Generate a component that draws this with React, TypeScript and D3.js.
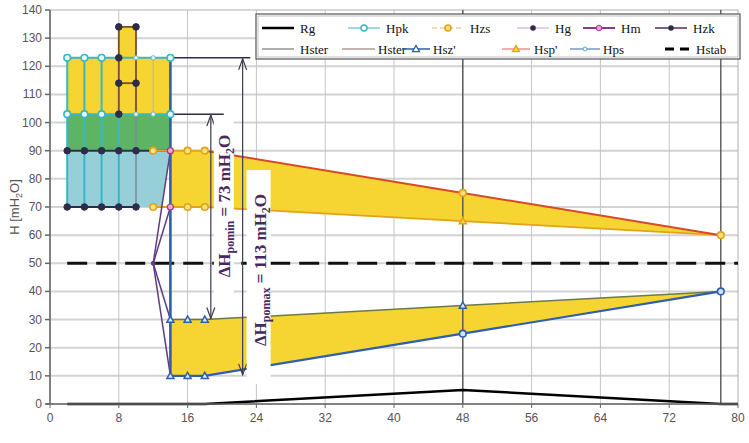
import React from 'react';
import * as d3 from 'd3';

type Pt = [number, number];

const xTickValues = [0, 8, 16, 24, 32, 40, 48, 56, 64, 72, 80];
const yTickValues = [0, 10, 20, 30, 40, 50, 60, 70, 80, 90, 100, 110, 120, 130, 140];

// filled zones
const yellowBlock: Pt[] = [[2, 103], [2, 123], [8, 123], [8, 134], [10, 134], [10, 123], [14, 123], [14, 103]];
const greenBlock: Pt[] = [[2, 90], [2, 103], [8, 103], [8, 114], [10, 114], [10, 103], [14, 103], [14, 90]];
const blueBlock: Pt[] = [[2, 70], [2, 90], [14, 90], [13, 70]];
const pressBand: Pt[] = [[14, 90], [18, 90], [48, 75], [78, 60], [48, 65], [18, 70], [14, 70]];
const suctBand: Pt[] = [[14, 30], [18, 30], [48, 35], [78, 40], [48, 25], [18, 10], [14, 10]];

// lines
const rg: Pt[] = [[2, 0], [18, 0], [48, 5], [78, 0], [80, 0]];
const hstab: Pt[] = [[2, 50], [80, 50]];
const hpkTop: Pt[] = [[2, 123], [14, 123]];
const hpkMid: Pt[] = [[2, 103], [14, 103]];
const hpkVerticals = [2, 4, 6];
const hgUpper: Pt[] = [[2, 90], [14, 90]];
const hgLower: Pt[] = [[2, 70], [10, 70]];
const hgTower: Pt[] = [[8, 103], [8, 134], [10, 134], [10, 103]];
const hgTowerMid: Pt[] = [[8, 114], [10, 114]];
const hzsUpper: Pt[] = [[12, 90], [18, 90]];
const hzsLower: Pt[] = [[12, 70], [18, 70]];
const hspUpper: Pt[] = [[18, 90], [48, 75], [78, 60]];
const hspLower: Pt[] = [[18, 70], [48, 65], [78, 60]];
const hszUpper: Pt[] = [[14, 30], [18, 30], [48, 35], [78, 40]];
const hszLower: Pt[] = [[14, 10], [18, 10], [48, 25], [78, 40]];
const fanHub: Pt = [12, 50];
const fanEnds: Pt[] = [[14, 90], [14, 70], [14, 30], [14, 10]];
const pumpLine: Pt[] = [[14, 10], [14, 123]];
const hsterX = [48, 78];

// markers
const hpkPts: Pt[] = [[2, 123], [4, 123], [6, 123], [14, 123], [2, 103], [4, 103], [6, 103], [14, 103]];
const hpsPts: Pt[] = [[10, 123], [12, 123], [10, 103], [12, 103]];
const hgPts: Pt[] = [[2, 90], [4, 90], [6, 90], [8, 90], [10, 90], [2, 70], [4, 70], [6, 70], [8, 70], [10, 70],
  [8, 134], [10, 134], [8, 114], [10, 114], [8, 123], [8, 103]];
const hzsPts: Pt[] = [[12, 90], [16, 90], [18, 90], [12, 70], [16, 70], [18, 70], [48, 75], [78, 60]];
const hmPts: Pt[] = [[14, 90], [14, 70]];
const hszPts: Pt[] = [[14, 30], [16, 30], [18, 30], [14, 10], [16, 10], [18, 10], [48, 35]];
const hszRound: Pt[] = [[48, 25], [78, 40]];
const hspPts: Pt[] = [[48, 65]];

// annotations
const dhMin = { x: 18.7, from: 103, to: 30, base: 14, stub: 20.2, label: 'pomin', value: 73 };
const dhMax = { x: 22.4, from: 123, to: 10, base: 14, stub: 23.3, label: 'pomax', value: 113 };

const legendRow1 = ['Rg', 'Hpk', 'Hzs', 'Hg', 'Hm', 'Hzk'];
const legendRow2 = ['Hster', 'Hster', "Hsz'", "Hsp'", 'Hps', 'Hstab'];

const W = 749, H = 443;
const M = { left: 50, right: 11, top: 10, bottom: 39 };

const YELLOW = '#f6d431';
const GREEN = '#5db465';
const LBLUE = '#96cfd8';
const ORANGE = '#e3a21a';
const RED = '#d84a26';
const BLUE = '#2d5fae';
const CYAN = '#3ab6c6';
const DARK = '#2d2d4a';
const BROWN = '#7a4a3a';
const PURPLE = '#5e3c82';
const LABEL = '#48285f';

export default function App() {
  const x = d3.scaleLinear().domain([0, 80]).range([M.left, W - M.right]);
  const y = d3.scaleLinear().domain([0, 140]).range([H - M.bottom, M.top]);
  const line = d3.line<Pt>().x(d => x(d[0])).y(d => y(d[1]));
  const area = (pts: Pt[]) => line(pts) + 'Z';

  const circles = (pts: Pt[], r: number, fill: string, stroke: string, sw = 1.5) =>
    pts.map((p, i) => <circle key={i} cx={x(p[0])} cy={y(p[1])} r={r} fill={fill} stroke={stroke} strokeWidth={sw} />);
  const tri = (cx: number, cy: number, s: number) =>
    `M${cx},${cy - s}L${cx + s},${cy + s * 0.75}L${cx - s},${cy + s * 0.75}Z`;
  const triangles = (pts: Pt[], fill: string, stroke: string) =>
    pts.map((p, i) => <path key={i} d={tri(x(p[0]), y(p[1]), 3.5)} fill={fill} stroke={stroke} strokeWidth={1.5} />);

  const tickFont = { fontFamily: '"Liberation Sans", Arial, sans-serif', fontSize: 12, fill: '#555' };
  const serif = '"Liberation Serif", "Times New Roman", serif';

  const arrow = (a: typeof dhMin) => {
    const ax = x(a.x);
    const y1 = y(a.from), y2 = y(a.to);
    return (
      <g stroke="#3b3b50" strokeWidth={1.2} fill="none">
        <line x1={x(a.base)} x2={x(a.stub)} y1={y1} y2={y1} stroke={DARK} strokeWidth={1.5} />
        <line x1={ax} x2={ax} y1={y1 + 1} y2={y2 - 1} />
        <path d={`M${ax - 4},${y1 + 12}L${ax},${y1 + 1}L${ax + 4},${y1 + 12}`} />
        <path d={`M${ax - 4},${y2 - 12}L${ax},${y2 - 1}L${ax + 4},${y2 - 12}`} />
      </g>
    );
  };

  const label = (a: typeof dhMin, cx: number, cy: number, box: [number, number, number, number]) => (
    <g>
      <rect x={box[0]} y={box[1]} width={box[2]} height={box[3]} fill="#fff" />
      <text transform={`translate(${cx},${cy}) rotate(-90)`} textAnchor="middle"
        fontFamily={serif} fontWeight="bold" fontSize={17} fill={LABEL}>
        ΔH<tspan fontSize={12} dy={4}>{a.label}</tspan><tspan dy={-4}>{` = ${a.value} mH`}</tspan>
        <tspan fontSize={12} dy={4}>2</tspan><tspan dy={-4}>O</tspan>
      </text>
    </g>
  );

  const minX = x(dhMin.x), maxX = x(dhMax.x);

  // legend layout
  const legX1 = [262, 348, 432, 517, 583, 655];
  const legX2 = [262, 342, 402, 502, 570, 665];
  const legTx2 = [300, 378, 433, 534, 603, 696];
  const legY1 = 28, legY2 = 49;
  const legSample = (name: string, row: number, i: number) => {
    const lx = row === 1 ? legX1[i] : legX2[i];
    const ly = row === 1 ? legY1 : legY2;
    const len = 32;
    const mx = lx + len / 2;
    let sample: React.ReactNode = null;
    if (row === 1) {
      if (name === 'Rg') sample = <line x1={lx} x2={lx + len} y1={ly} y2={ly} stroke="#000" strokeWidth={2.5} />;
      if (name === 'Hpk') sample = <g><line x1={lx} x2={lx + len} y1={ly} y2={ly} stroke={CYAN} strokeWidth={1} /><circle cx={mx} cy={ly} r={3} fill="#fff" stroke={CYAN} strokeWidth={1.5} /></g>;
      if (name === 'Hzs') sample = <g><line x1={lx} x2={lx + len} y1={ly} y2={ly} stroke="#f0b070" strokeWidth={1} strokeDasharray="5,3" /><circle cx={mx} cy={ly} r={3} fill="#f6e07a" stroke={ORANGE} strokeWidth={1.5} /></g>;
      if (name === 'Hg') sample = <g><line x1={lx} x2={lx + len} y1={ly} y2={ly} stroke="#d6b0d8" strokeWidth={1.2} /><circle cx={mx} cy={ly} r={2.8} fill={DARK} /></g>;
      if (name === 'Hm') sample = <g><line x1={lx} x2={lx + len} y1={ly} y2={ly} stroke="#8a3a8a" strokeWidth={2} /><circle cx={mx} cy={ly} r={2.8} fill="#f0a0d0" stroke="#a03c8c" strokeWidth={1} /></g>;
      if (name === 'Hzk') sample = <g><line x1={lx} x2={lx + len} y1={ly} y2={ly} stroke="#5a2a5a" strokeWidth={1.5} /><circle cx={mx} cy={ly} r={2.8} fill={DARK} /></g>;
    } else {
      if (i === 0) sample = <line x1={lx} x2={lx + len} y1={ly} y2={ly} stroke="#777" strokeWidth={1.2} />;
      if (i === 1) sample = <line x1={lx} x2={lx + 33} y1={ly} y2={ly} stroke="#8a6a5a" strokeWidth={1.2} />;
      if (i === 2) sample = <g><line x1={lx} x2={lx + 28} y1={ly} y2={ly} stroke={BLUE} strokeWidth={1.5} /><path d={tri(lx + 14, ly, 3.5)} fill="#fff" stroke={BLUE} strokeWidth={1.3} /></g>;
      if (i === 3) sample = <g><line x1={lx} x2={lx + 28} y1={ly} y2={ly} stroke="#f09090" strokeWidth={1.5} /><path d={tri(lx + 14, ly, 3.5)} fill={YELLOW} stroke={ORANGE} strokeWidth={1.3} /></g>;
      if (i === 4) sample = <g><line x1={lx} x2={lx + 30} y1={ly} y2={ly} stroke="#5a7ab8" strokeWidth={1.2} /><circle cx={lx + 15} cy={ly} r={2} fill="#fff" stroke={CYAN} strokeWidth={1} /></g>;
      if (i === 5) sample = <g><line x1={lx} x2={lx + 28} y1={ly} y2={ly} stroke="#000" strokeWidth={3} strokeDasharray="9,6" /></g>;
    }
    const tx = row === 1 ? lx + len + 6 : legTx2[i];
    return (
      <g key={`${row}-${i}`}>
        {sample}
        <text x={tx} y={ly + 4.5} fontFamily={serif} fontSize={13} fill="#111">{name}</text>
      </g>
    );
  };

  return (
    <svg width={W} height={H} style={{ position: 'absolute', left: 0, top: 0, background: '#fff' }}>
      {/* grid */}
      <g>
        {yTickValues.filter(v => v > 0 && v < 140).map(v => (
          <line key={v} x1={x(0)} x2={x(80)} y1={y(v)} y2={y(v)} stroke="#d3d3d3" strokeWidth={2} />
        ))}
        {xTickValues.filter(v => v > 0 && v < 80).map(v => (
          <line key={v} x1={x(v)} x2={x(v)} y1={y(0)} y2={y(140)} stroke="#c4c4c4" strokeWidth={1} />
        ))}
        <rect x={x(0)} y={y(140)} width={x(80) - x(0)} height={y(0) - y(140)} fill="none" stroke="#b0b0b0" strokeWidth={1} />
      </g>

      {/* zones */}
      <path d={area(blueBlock)} fill={LBLUE} />
      <path d={area(greenBlock)} fill={GREEN} />
      <path d={area(yellowBlock)} fill={YELLOW} />
      <path d={area(pressBand)} fill={YELLOW} />
      <path d={area(suctBand)} fill={YELLOW} />

      {/* Hster verticals */}
      {hsterX.map(v => (
        <line key={v} x1={x(v)} x2={x(v)} y1={y(0)} y2={y(140)} stroke="#4a4a4a" strokeWidth={1.3} />
      ))}

      {/* Hstab */}
      <path d={line(hstab)!} fill="none" stroke="#111" strokeWidth={3} strokeDasharray="20,9" />

      {/* Rg */}
      <path d={line(rg)!} fill="none" stroke="#000" strokeWidth={2.5} />

      {/* Hpk verticals and levels */}
      {hpkVerticals.map(v => (
        <line key={v} x1={x(v)} x2={x(v)} y1={y(70)} y2={y(123)} stroke={CYAN} strokeWidth={2} />
      ))}
      <line x1={x(8)} x2={x(8)} y1={y(70)} y2={y(103)} stroke={CYAN} strokeWidth={2} />
      <line x1={x(10)} x2={x(10)} y1={y(70)} y2={y(103)} stroke="#7a8a9a" strokeWidth={1.5} />
      <line x1={x(12)} x2={x(12)} y1={y(103)} y2={y(123)} stroke="#a8b8c0" strokeWidth={1} />
      <path d={line(hpkTop)!} fill="none" stroke={CYAN} strokeWidth={2} />
      <path d={line(hpkMid)!} fill="none" stroke={CYAN} strokeWidth={2} />
      <path d={line(hgTower)!} fill="none" stroke={BROWN} strokeWidth={1.8} />
      <path d={line(hgTowerMid)!} fill="none" stroke={BROWN} strokeWidth={1.8} />
      <path d={line(hgUpper)!} fill="none" stroke={DARK} strokeWidth={2} />
      <path d={line(hgLower)!} fill="none" stroke={DARK} strokeWidth={2} />

      {/* pressure side */}
      <path d={line(hzsUpper)!} fill="none" stroke={ORANGE} strokeWidth={2} />
      <path d={line(hzsLower)!} fill="none" stroke={ORANGE} strokeWidth={2} />
      <path d={line(hspLower)!} fill="none" stroke={ORANGE} strokeWidth={1.8} />
      <path d={line(hspUpper)!} fill="none" stroke={RED} strokeWidth={2} />

      {/* suction side */}
      <path d={line(hszUpper)!} fill="none" stroke="#6a7a4a" strokeWidth={1.5} />
      <path d={line(hszLower)!} fill="none" stroke={BLUE} strokeWidth={2.2} />

      {/* fan from Hzk */}
      {fanEnds.map((p, i) => (
        <line key={i} x1={x(fanHub[0])} y1={y(fanHub[1])} x2={x(p[0])} y2={y(p[1])} stroke={PURPLE} strokeWidth={1.5} />
      ))}
      <path d={line(pumpLine)!} fill="none" stroke={BLUE} strokeWidth={2.6} />

      {/* annotations */}
      {arrow(dhMax)}
      {arrow(dhMin)}
      {label(dhMin, minX + 19, 206, [minX + 3, y(dhMin.from) + 4, 20, 176])}
      {label(dhMax, maxX + 23.5, 270, [maxX + 4, 170, 24, 214])}

      {/* markers */}
      {circles(hgPts, 3.3, DARK, DARK, 1)}
      {circles(hpkPts, 3.3, '#e8f7fa', CYAN, 1.6)}
      {circles(hpsPts, 2.2, '#e8f7fa', '#6ab8c0', 1)}
      {circles(hzsPts, 3.3, '#f6e27a', ORANGE, 1.6)}
      {circles(hmPts, 3, '#f3a6d3', '#a0388c', 1.2)}
      {circles([fanHub], 2, PURPLE, PURPLE, 1)}
      {triangles(hszPts, '#d9ecf7', BLUE)}
      {circles(hszRound, 3.3, '#cfe4f5', BLUE, 1.6)}
      {triangles(hspPts, YELLOW, ORANGE)}

      {/* axes */}
      <line x1={x(0)} x2={x(0)} y1={y(0)} y2={y(140)} stroke="#666" strokeWidth={1.5} />
      <line x1={x(0) - 4} x2={x(80)} y1={y(0)} y2={y(0)} stroke="#666" strokeWidth={1.5} />
      {yTickValues.map(v => (
        <g key={v}>
          <line x1={x(0) - 5} x2={x(0)} y1={y(v)} y2={y(v)} stroke="#666" strokeWidth={1.5} />
          <text x={x(0) - 8} y={y(v) + 4} textAnchor="end" {...tickFont}>{v}</text>
        </g>
      ))}
      {xTickValues.map(v => (
        <g key={v}>
          <line x1={x(v)} x2={x(v)} y1={y(0)} y2={y(0) + 4} stroke="#666" strokeWidth={1} />
          <text x={x(v)} y={y(0) + 18} textAnchor="middle" {...tickFont}>{v}</text>
        </g>
      ))}
      <text transform={`translate(19,${y(70)}) rotate(-90)`} textAnchor="middle" {...tickFont} fontSize={13}>
        H  [mH<tspan fontSize={9} dy={3}>2</tspan><tspan dy={-3}>O]</tspan>
      </text>

      {/* legend */}
      <rect x={256} y={14} width={484} height={45} fill="#fff" stroke="#555" strokeWidth={1.2} />
      <rect x={258} y={16} width={480} height={41} fill="none" stroke="#999" strokeWidth={0.6} />
      {legendRow1.map((n, i) => legSample(n, 1, i))}
      {legendRow2.map((n, i) => legSample(n, 2, i))}
    </svg>
  );
}
